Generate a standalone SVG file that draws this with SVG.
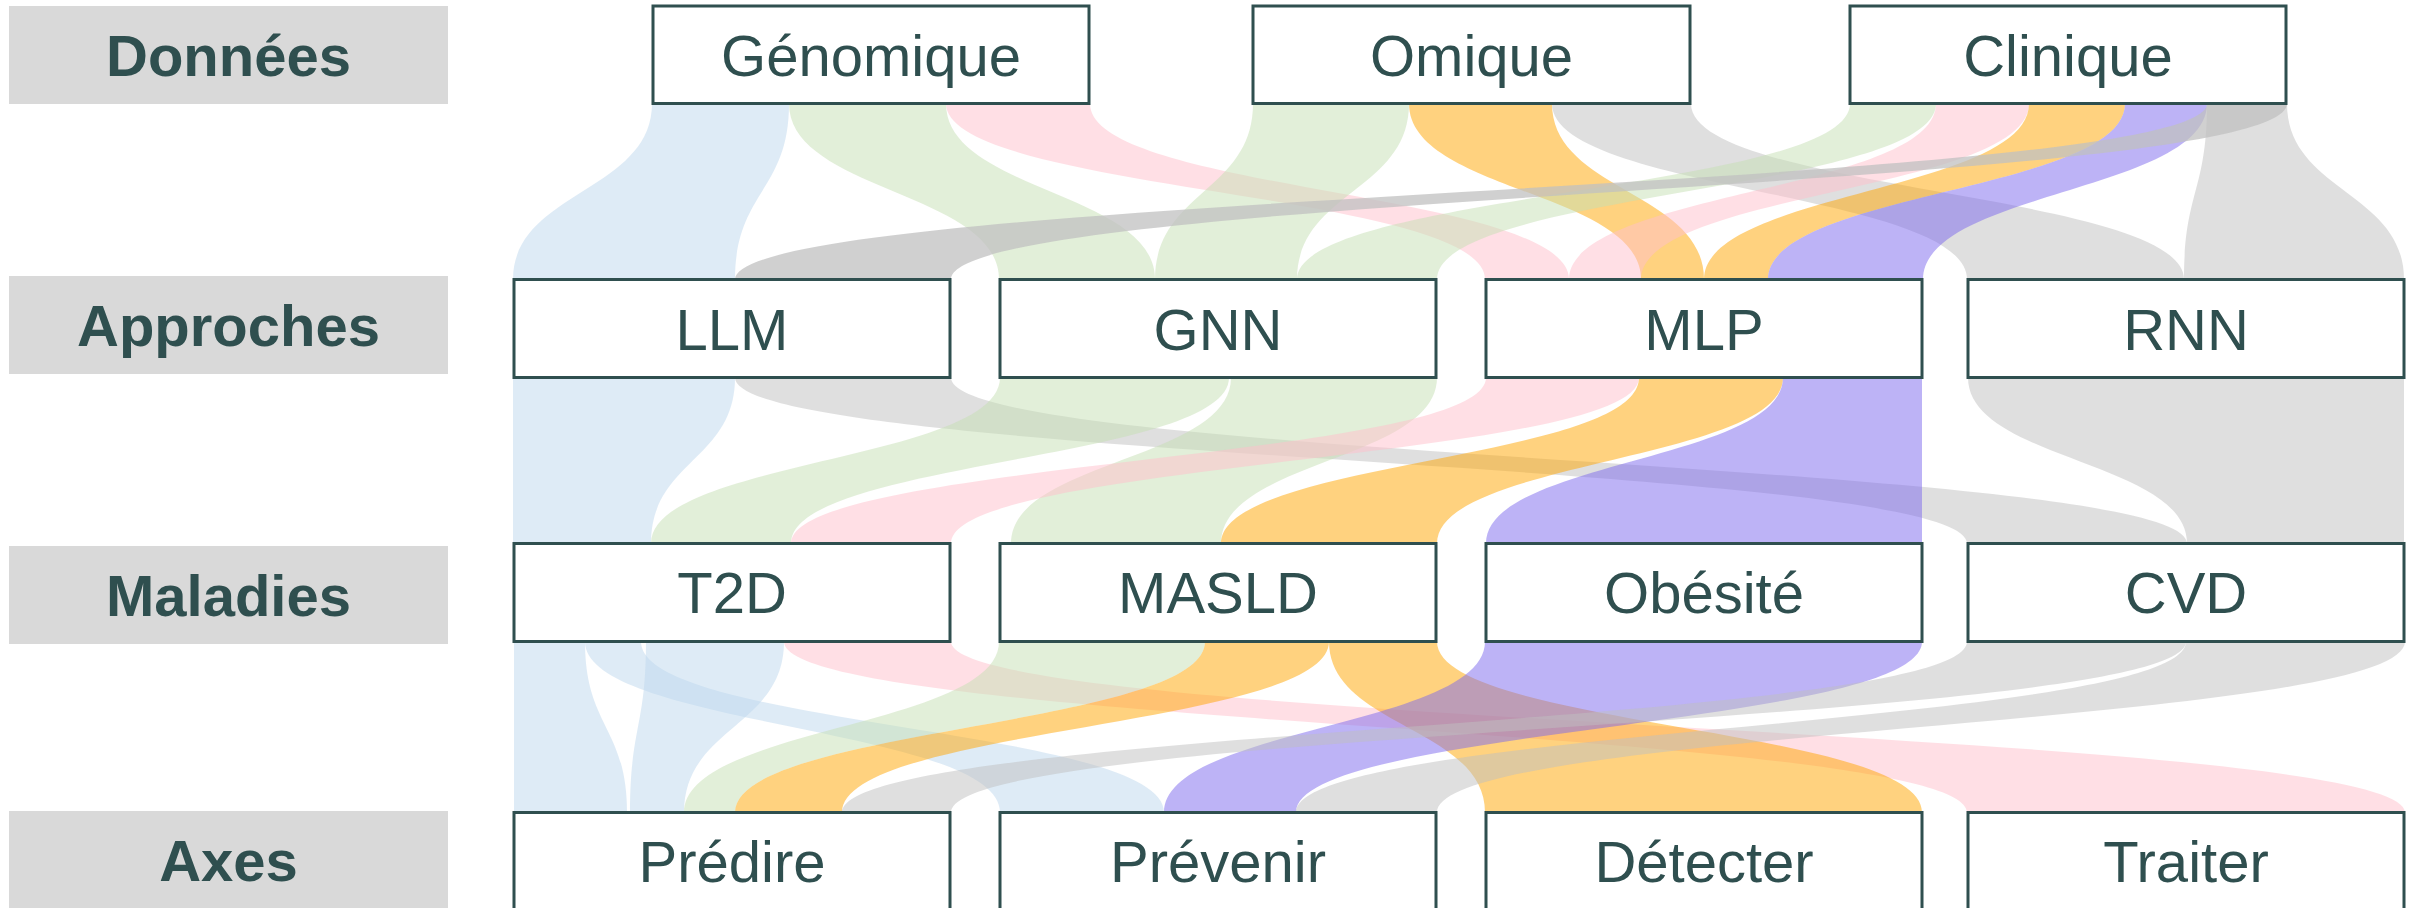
<svg xmlns="http://www.w3.org/2000/svg" width="2420" height="908" viewBox="0 0 2420 908">
<style>
.lbl rect{fill:#D9D9D9}
.lbl text{font-family:"Liberation Sans",Arial,sans-serif;font-weight:bold;font-size:58px;fill:#2F4F4F;text-anchor:middle}
.node rect{fill:#FFFFFF;stroke:#2F4F4F;stroke-width:3}
.node text{font-family:"Liberation Sans",Arial,sans-serif;font-size:58px;fill:#2F4F4F;text-anchor:middle}
.f{fill-opacity:0.5;stroke:none}
.bl{fill:#BDD7EE}.gr{fill:#C5E0B4}.pk{fill:#FFC0CB}.or{fill:#FFA500}.pu{fill:#7B68EE}.gy{fill:#C0C0C0}
.gy2{fill:#C0C0C0;fill-opacity:0.75;stroke:none}
</style>
<rect width="2420" height="908" fill="#FFFFFF"/>
<g id="row-labels" class="lbl">
<g id="lbl-donnees"><rect x="9" y="6" width="439" height="98"/><text x="228.5" y="76">Données</text></g>
<g id="lbl-approches"><rect x="9" y="276" width="439" height="98"/><text x="228.5" y="346">Approches</text></g>
<g id="lbl-maladies"><rect x="9" y="546" width="439" height="98"/><text x="228.5" y="616">Maladies</text></g>
<g id="lbl-axes"><rect x="9" y="811" width="439" height="98"/><text x="228.5" y="881">Axes</text></g>
</g>
<g id="connectors">
<path class="f bl" d="M652 103.5C652 191.5 513 191.5 513 279.5L735 279.5C735 191.5 789 191.5 789 103.5Z"/>
<path class="f gr" d="M789 103.5C789 191.5 999 191.5 999 279.5L1155 279.5C1155 191.5 946 191.5 946 103.5Z"/>
<path class="f pk" d="M946 103.5C946 191.5 1485 191.5 1485 279.5L1569 279.5C1569 191.5 1090 191.5 1090 103.5Z"/>
<path class="f gr" d="M1253 103.5C1253 191.5 1155 191.5 1155 279.5L1297 279.5C1297 191.5 1409 191.5 1409 103.5Z"/>
<path class="f or" d="M1409 103.5C1409 191.5 1641 191.5 1641 279.5L1704 279.5C1704 191.5 1552 191.5 1552 103.5Z"/>
<path class="f gy" d="M1552 103.5C1552 191.5 1967 191.5 1967 279.5L2184 279.5C2184 191.5 1691 191.5 1691 103.5Z"/>
<path class="f gr" d="M1850 103.5C1850 191.5 1297 191.5 1297 279.5L1437 279.5C1437 191.5 1936 191.5 1936 103.5Z"/>
<path class="f pk" d="M1936 103.5C1936 191.5 1569 191.5 1569 279.5L1641 279.5C1641 191.5 2029 191.5 2029 103.5Z"/>
<path class="f or" d="M2029 103.5C2029 191.5 1704 191.5 1704 279.5L1768 279.5C1768 191.5 2125 191.5 2125 103.5Z"/>
<path class="f pu" d="M2125 103.5C2125 191.5 1768 191.5 1768 279.5L1923 279.5C1923 191.5 2207 191.5 2207 103.5Z"/>
<path class="f gy" d="M2207 103.5C2207 191.5 2184 191.5 2184 279.5L2404 279.5C2404 191.5 2287 191.5 2287 103.5Z"/>
<path class="gy2" d="M2207 103.5C2207 191.5 735 191.5 735 279.5L951 279.5C951 191.5 2287 191.5 2287 103.5Z"/>

<path class="f bl" d="M513 377.5C513 460.5 513 460.5 513 543.5L651 543.5C651 460.5 735 460.5 735 377.5Z"/>
<path class="f gy" d="M735 377.5C735 460.5 1967 460.5 1967 543.5L2187 543.5C2187 460.5 951 460.5 951 377.5Z"/>
<path class="f gr" d="M1000 377.5C1000 460.5 651 460.5 651 543.5L791 543.5C791 460.5 1229 460.5 1229 377.5Z"/>
<path class="f gr" d="M1231 377.5C1231 460.5 1011 460.5 1011 543.5L1221 543.5C1221 460.5 1437 460.5 1437 377.5Z"/>
<path class="f pk" d="M1486 377.5C1486 460.5 791 460.5 791 543.5L951 543.5C951 460.5 1639 460.5 1639 377.5Z"/>
<path class="f or" d="M1639 377.5C1639 460.5 1221 460.5 1221 543.5L1437 543.5C1437 460.5 1783 460.5 1783 377.5Z"/>
<path class="f pu" d="M1783 377.5C1783 460.5 1486 460.5 1486 543.5L1922 543.5C1922 460.5 1922 460.5 1922 377.5Z"/>
<path class="f gy" d="M1968 377.5C1968 460.5 2187 460.5 2187 543.5L2404 543.5C2404 460.5 2404 460.5 2404 377.5Z"/>

<path class="f bl" d="M514 641.5C514 727 514 727 514 812.5L627 812.5C627 727 585 727 585 641.5Z"/>
<path class="f bl" d="M585 641.5C585 727 1000 727 1000 812.5L1164 812.5C1164 727 641 727 641 641.5Z"/>
<path class="f bl" d="M646 641.5C646 727 630 727 630 812.5L684 812.5C684 727 784 727 784 641.5Z"/>
<path class="f pk" d="M784 641.5C784 727 1967 727 1967 812.5L2405 812.5C2405 727 951 727 951 641.5Z"/>
<path class="f gr" d="M999 641.5C999 727 684 727 684 812.5L735 812.5C735 727 1205 727 1205 641.5Z"/>
<path class="f or" d="M1205 641.5C1205 727 735 727 735 812.5L842 812.5C842 727 1329 727 1329 641.5Z"/>
<path class="f or" d="M1329 641.5C1329 727 1485 727 1485 812.5L1922 812.5C1922 727 1437 727 1437 641.5Z"/>
<path class="f pu" d="M1485 641.5C1485 727 1164 727 1164 812.5L1296 812.5C1296 727 1922 727 1922 641.5Z"/>
<path class="f gy" d="M1967 641.5C1967 727 842 727 842 812.5L951 812.5C951 727 2186 727 2186 641.5Z"/>
<path class="f gy" d="M2186 641.5C2186 727 1296 727 1296 812.5L1437 812.5C1437 727 2405 727 2405 641.5Z"/>
</g>
<g id="node-genomique" class="node"><rect x="653" y="6" width="436" height="97.5"/><text x="871" y="76">Génomique</text></g>
<g id="node-omique" class="node"><rect x="1253" y="6" width="437" height="97.5"/><text x="1471.5" y="76">Omique</text></g>
<g id="node-clinique" class="node"><rect x="1850" y="6" width="436" height="97.5"/><text x="2068" y="76">Clinique</text></g>
<g id="node-llm" class="node"><rect x="514" y="279.5" width="436" height="98"/><text x="732" y="350">LLM</text></g>
<g id="node-gnn" class="node"><rect x="1000" y="279.5" width="436" height="98"/><text x="1218" y="350">GNN</text></g>
<g id="node-mlp" class="node"><rect x="1486" y="279.5" width="436" height="98"/><text x="1704" y="350">MLP</text></g>
<g id="node-rnn" class="node"><rect x="1968" y="279.5" width="436" height="98"/><text x="2186" y="350">RNN</text></g>
<g id="node-t2d" class="node"><rect x="514" y="543.5" width="436" height="98"/><text x="732" y="613">T2D</text></g>
<g id="node-masld" class="node"><rect x="1000" y="543.5" width="436" height="98"/><text x="1218" y="613">MASLD</text></g>
<g id="node-obesite" class="node"><rect x="1486" y="543.5" width="436" height="98"/><text x="1704" y="613">Obésité</text></g>
<g id="node-cvd" class="node"><rect x="1968" y="543.5" width="436" height="98"/><text x="2186" y="613">CVD</text></g>
<g id="node-predire" class="node"><rect x="514" y="812.5" width="436" height="98"/><text x="732" y="882">Prédire</text></g>
<g id="node-prevenir" class="node"><rect x="1000" y="812.5" width="436" height="98"/><text x="1218" y="882">Prévenir</text></g>
<g id="node-detecter" class="node"><rect x="1486" y="812.5" width="436" height="98"/><text x="1704" y="882">Détecter</text></g>
<g id="node-traiter" class="node"><rect x="1968" y="812.5" width="436" height="98"/><text x="2186" y="882">Traiter</text></g>
</svg>
